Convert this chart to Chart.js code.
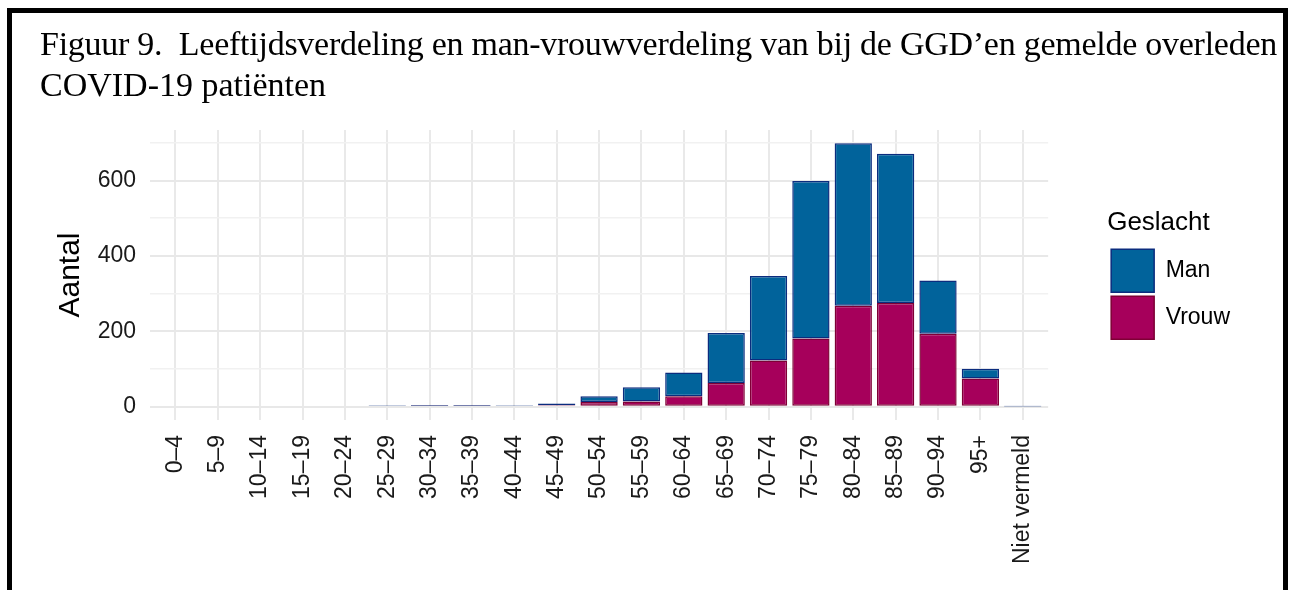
<!DOCTYPE html>
<html><head><meta charset="utf-8">
<script src="https://cdn.jsdelivr.net/npm/chart.js@4/dist/chart.umd.min.js"></script>
<style>
html,body{margin:0;padding:0;background:#fff;width:1291px;height:590px;overflow:hidden}
#frame{position:absolute;left:7px;top:8px;width:1281px;height:640px;box-sizing:border-box;border:5px solid #000;border-bottom:none}
#title{position:absolute;left:40px;top:23px;font-family:"Liberation Serif","Times New Roman",serif;font-size:34px;line-height:41px;color:#000;white-space:nowrap}
#title span{display:inline-block}
#wrap{position:absolute;left:0;top:0;width:1291px;height:590px}
</style></head><body>
<div id="frame"></div>
<div id="wrap"><canvas id="c" width="1291" height="590"></canvas></div>
<div id="title"><span id="t1">Figuur 9.&nbsp; Leeftijdsverdeling en man-vrouwverdeling van bij de GGD’en gemelde overleden</span><br><span id="t2">COVID-19 patiënten</span></div>
<script>
const categories = ['0–4','5–9','10–14','15–19','20–24','25–29','30–34','35–39','40–44','45–49','50–54','55–59','60–64','65–69','70–74','75–79','80–84','85–89','90–94','95+','Niet vermeld'];
const man   = [0,0,0,0,0,4,2,2,4,5,15,38,63,133,224,418,431,396,141,26,1];
const vrouw = [0,0,0,0,0,0,2,2,0,4,13,14,28,63,123,181,268,275,194,75,0];
const yTickLabels = [0,200,400,600];
const seriesNames = ['Man','Vrouw'];
const legendTitle = 'Geslacht';
const yTitle = 'Aantal';

// fit first title line to the reference width
(function(){
  const t1 = document.getElementById('t1');
  const target = 1237;
  const w = t1.getBoundingClientRect().width;
  const n = t1.textContent.length;
  t1.style.letterSpacing = ((target - w) / n) + 'px';
})();

const totals = man.map((m,i)=>m+vrouw[i]);
const maxTotal = Math.max(...totals);
const toPoints = arr => arr.map((v,i)=>({x:i,y:v}));

Chart.defaults.font.family = '"Liberation Sans", Arial, sans-serif';
Chart.defaults.color = '#1a1a1a';

new Chart(document.getElementById('c'), {
  type:'bar',
  data:{datasets:[
    {label:seriesNames[1], data:toPoints(vrouw), backgroundColor:'#A6005B', borderColor:'#7E0035', borderWidth:1.5, borderSkipped:false, barPercentage:0.88, categoryPercentage:1},
    {label:seriesNames[0], data:toPoints(man), backgroundColor:'#01639B', borderColor:'#0B2C7E', borderWidth:1.5, borderSkipped:false, barPercentage:0.88, categoryPercentage:1}
  ]},
  options:{
    responsive:false, animation:false, devicePixelRatio:1,
    layout:{padding:{top:130,left:0,right:51,bottom:0}},
    plugins:{
      tooltip:{enabled:false},
      legend:{position:'right', align:'start', reverse:true,
        title:{display:true, text:legendTitle, position:'start', color:'#000', font:{size:26}, padding:{top:80,bottom:4}},
        labels:{boxWidth:43, boxHeight:43, padding:4, color:'#000', font:{size:23}}}
    },
    scales:{
      x:{type:'linear', min:-0.6, max:categories.length-0.4, offset:false, stacked:true,
        grid:{offset:false, color:'#e9e9e9', lineWidth:2, drawTicks:false},
        border:{display:false},
        ticks:{autoSkip:false, maxRotation:90, minRotation:90, padding:15, color:'#1a1a1a', font:{size:23},
          callback:(v)=>categories[v] ?? ''},
        afterBuildTicks:(a)=>{a.ticks = categories.map((_,i)=>({value:i}));},
        afterFit:(a)=>{a.height = 170;}
      },
      y:{type:'linear', min:-0.05*maxTotal, max:1.05*maxTotal, stacked:true,
        grid:{color:(c)=> yTickLabels.includes(c.tick.value) ? '#e8e8e8' : '#f1f1f1',
              lineWidth:(c)=> yTickLabels.includes(c.tick.value) ? 2 : 1.5, drawTicks:false},
        border:{display:false},
        ticks:{stepSize:100, includeBounds:false, padding:14, color:'#1a1a1a', font:{size:23},
          callback:(v)=> yTickLabels.includes(v) ? String(v) : ''},
        title:{display:true, text:yTitle, color:'#000', font:{size:30}, padding:{top:53,bottom:0}},
        afterFit:(a)=>{a.width = 150;}
      },
      gap:{type:'linear', position:'right', display:true, grid:{display:false}, ticks:{display:false}, border:{display:false},
        afterFit:(a)=>{a.width = 59;}}
    }
  }
});
</script>
</body></html>
